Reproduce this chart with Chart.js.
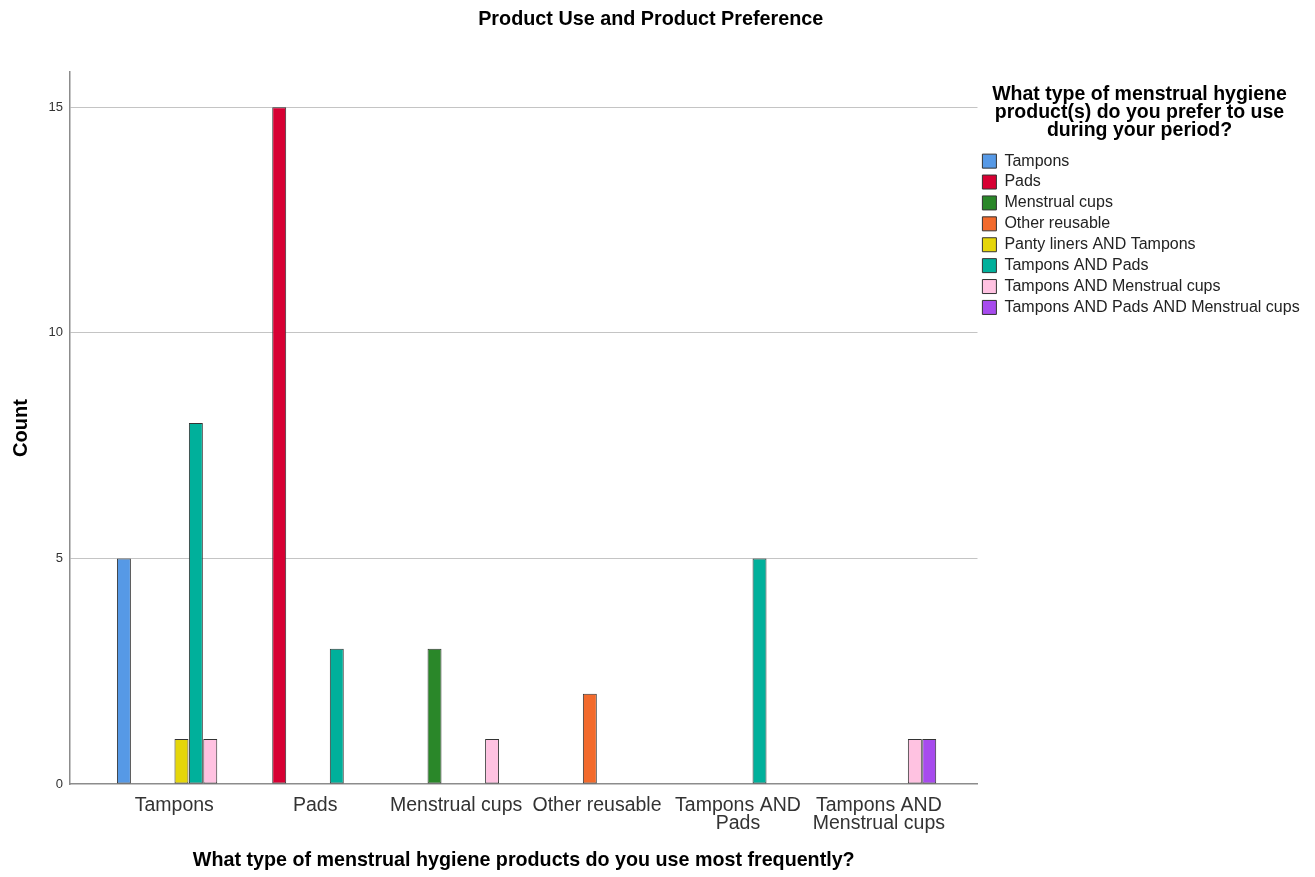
<!DOCTYPE html>
<html>
<head>
<meta charset="utf-8">
<title>Product Use and Product Preference</title>
<script src="https://cdn.jsdelivr.net/npm/chart.js@4.4.1/dist/chart.umd.min.js"></script>
<style>
  html, body { margin: 0; padding: 0; background: #fff; }
</style>
</head>
<body>
<canvas id="chart" width="1315" height="877"></canvas>
<script>
// x categories: most frequently used product
let categories = ['Tampons', 'Pads', 'Menstrual cups', 'Other reusable', ['Tampons AND', 'Pads'], ['Tampons AND', 'Menstrual cups']];

// counts per preferred product, one entry per category (null = no bar)
let tampons            = [5, null, null, null, null, null];
let pads               = [null, 15, null, null, null, null];
let menstrualCups      = [null, null, 3, null, null, null];
let otherReusable      = [null, null, null, 2, null, null];
let pantyLinersTampons = [1, null, null, null, null, null];
let tamponsPads        = [8, 3, null, null, 5, null];
let tamponsCups        = [1, null, 1, null, null, 1];
let tamponsPadsCups    = [null, null, null, null, null, 1];

let seriesNames = ['Tampons', 'Pads', 'Menstrual cups', 'Other reusable', 'Panty liners AND Tampons', 'Tampons AND Pads', 'Tampons AND Menstrual cups', 'Tampons AND Pads AND Menstrual cups'];
let seriesValues = [tampons, pads, menstrualCups, otherReusable, pantyLinersTampons, tamponsPads, tamponsCups, tamponsPadsCups];
let seriesColors = ['#5699e6', '#d70033', '#2a8729', '#f26a2c', '#e5d60a', '#00b09b', '#ffc2e1', '#a74bee'];

let yTicks = [0, 5, 10, 15];
let yMax = 15.78;
let xMin = -0.74, xMax = 5.70;

Chart.defaults.font.family = "'Liberation Sans', Arial, sans-serif";

toPoints = values => values.map((v, i) => ({ x: i, y: v }));

let datasets = seriesNames.map((name, i) => ({
  label: name,
  data: toPoints(seriesValues[i]),
  backgroundColor: seriesColors[i],
  borderColor: '#333',
  borderWidth: 1,
  borderSkipped: false
}));

let canvas = document.getElementById('chart').getContext('2d');

let chart = new Chart(canvas, {
  type: 'bar',
  data: { datasets: datasets },
  options: {
    responsive: false,
    animation: false,
    layout: { padding: { left: 0, right: 13.5, top: 0, bottom: 0 } },
    datasets: {
      bar: { categoryPercentage: 0.817, barPercentage: 0.97 }
    },
    plugins: {
      title: {
        display: true,
        text: 'Product Use and Product Preference',
        color: '#000',
        font: { size: 19.8, weight: 'bold' },
        padding: { top: 7.3, bottom: 41 }
      },
      legend: {
        position: 'right',
        align: 'start',
        maxWidth: 324,
        title: {
          display: true,
          text: ['What type of menstrual hygiene', 'product(s) do you prefer to use', 'during your period?'],
          color: '#000',
          font: { size: 19.5, weight: 'bold', lineHeight: 0.93 },
          padding: { top: 84.5, bottom: 45.6 }
        },
        labels: {
          boxWidth: 14,
          boxHeight: 14,
          padding: 4.9,
          color: '#222',
          font: { size: 16 }
        }
      },
      tooltip: { enabled: false }
    },
    scales: {
      x: {
        type: 'linear',
        offset: false,
        min: xMin,
        max: xMax,
        afterBuildTicks: scale => {
          scale.ticks = categories.map((c, i) => ({ value: i }));
        },
        afterFit: scale => { scale.height = 93; },
        grid: { color: 'transparent', drawTicks: false, offset: false },
        border: { color: '#8c8c8c', width: 1.5 },
        ticks: {
          callback: value => categories[value],
          color: '#333',
          font: { size: 19.5, lineHeight: 0.95 },
          padding: 12,
          maxRotation: 0,
          autoSkip: false
        },
        title: {
          display: true,
          text: 'What type of menstrual hygiene products do you use most frequently?',
          color: '#000',
          font: { size: 19.7, weight: 'bold' },
          padding: { top: 0, bottom: 4.2 }
        }
      },
      y: {
        min: 0,
        max: yMax,
        afterBuildTicks: scale => {
          scale.ticks = yTicks.map(v => ({ value: v }));
        },
        afterFit: scale => { scale.width = 70; },
        grid: {
          color: ctx => ctx.tick && ctx.tick.value === 0 ? 'transparent' : '#c4c4c4',
          drawTicks: false
        },
        border: { color: '#8c8c8c', width: 1.5 },
        ticks: {
          color: '#333',
          font: { size: 13 },
          padding: 7
        },
        title: {
          display: true,
          text: 'Count',
          color: '#000',
          font: { size: 20, weight: 'bold' },
          padding: { top: 9.7, bottom: 0 }
        }
      }
    }
  }
});
</script>
</body>
</html>
